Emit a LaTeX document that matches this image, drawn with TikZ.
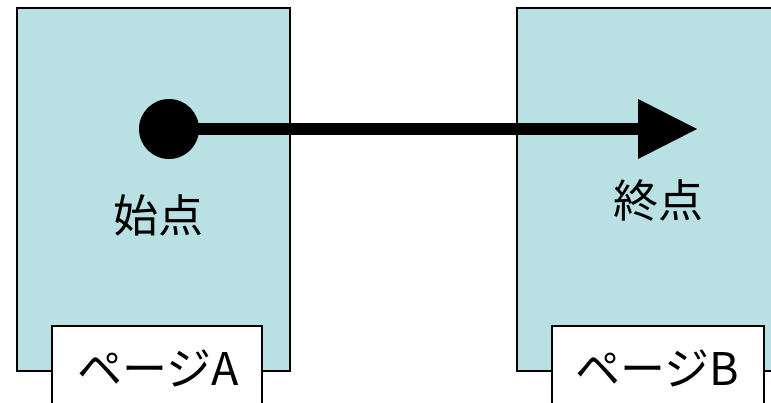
\documentclass[tikz,border=0pt]{standalone}
\usepackage{fontspec}
\setmainfont{Noto Sans CJK JP}
\usetikzlibrary{arrows.meta}
\definecolor{pagefill}{RGB}{185,224,227}
\tikzset{
  pagebox/.style={draw=black, line width=1.5pt, fill=pagefill, inner sep=0pt},
  tagbox/.style={draw=black, line width=1.5pt, fill=white, inner sep=0pt},
  bigtext/.style={font=\fontsize{45}{50}\selectfont, inner sep=0pt},
  tagtext/.style={font=\fontsize{45}{50}\selectfont, inner sep=0pt},
  dot/.style={circle, fill=black, minimum size=60pt, inner sep=0pt},
}
\begin{document}
\begin{tikzpicture}[x=1pt,y=-1pt]
\useasboundingbox (0,0) rectangle (771,402);
\clip (0,0) rectangle (771,402);
\fill[white] (0,0) rectangle (771,402);
% pages
\node[pagebox, minimum width=273pt, minimum height=363pt] (pa) at (153.5,189.5) {};
\node[pagebox, minimum width=280pt, minimum height=363pt] (pb) at (657,189.5) {};
% tags
\node[tagbox, minimum width=210pt, minimum height=100pt] (ta) at (157,376) {};
\node[tagbox, minimum width=212pt, minimum height=100pt] (tb) at (658,376) {};
\node[tagtext] (la) at (158,368) {ページA};
\node[tagtext] (lb) at (657,368) {ページB};
% texts
\node[bigtext] (s) at (158,215) {始点};
\node[bigtext] (e) at (658,201) {終点};
% arrow
\node[dot] (start) at (169,129) {};
\coordinate (end) at (697,129);
\draw[line width=12pt, -{Triangle[length=59pt,width=60pt,line width=0pt]}] (start.center) -- (end);
\end{tikzpicture}
\end{document}
